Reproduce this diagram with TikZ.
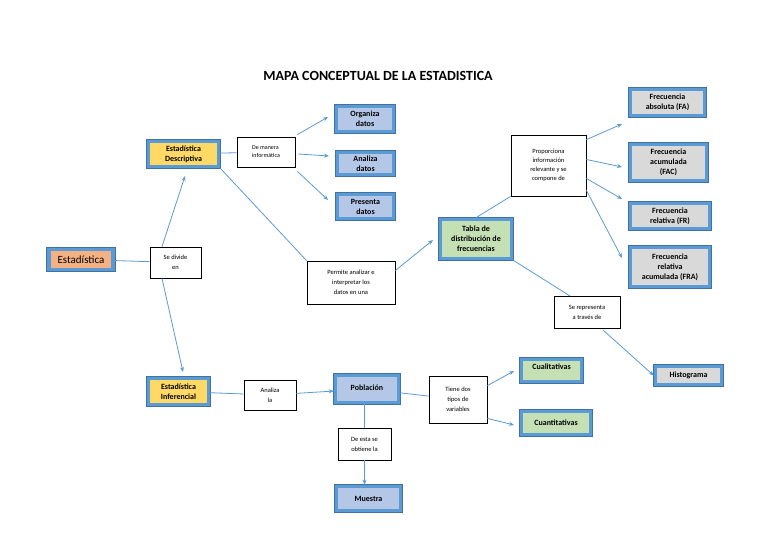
\documentclass[tikz,border=0pt]{standalone}
\usepackage{fontspec}
\setmainfont{Carlito}
\usetikzlibrary{arrows.meta}
\definecolor{bblue}{HTML}{5B9BD5}
\definecolor{dblue}{HTML}{41719C}
\definecolor{cor}{HTML}{F4B183}
\definecolor{cye}{HTML}{FFD966}
\definecolor{clb}{HTML}{B4C7E7}
\definecolor{cgr}{HTML}{C5E0B4}
\definecolor{cgy}{HTML}{D9D9D9}
\begin{document}
\begin{tikzpicture}[x=1pt,y=-1pt,
  bbox/.style 2 args={preaction={draw=dblue,line width=5.2pt},draw=bblue,line width=3.6pt,fill=#1,
    minimum width=#2,align=center,font=\bfseries\fontsize{8}{10}\selectfont,inner sep=1pt},
  wbox/.style={draw=black,line width=0.8pt,fill=white,align=center,font=\fontsize{6.5}{10}\selectfont,inner sep=2pt},
  ln/.style={draw=bblue,line width=0.8pt},
  ar/.style={ln,-{Stealth[length=5pt,width=4pt]}}]
\useasboundingbox (0,0) rectangle (768,543);
\fill[white] (0,0) rectangle (768,543);
\node (title) at (378,76) {\bfseries\fontsize{14}{16}\selectfont MAPA CONCEPTUAL DE LA ESTADISTICA};
% blue boxes
\node[bbox={cor}{64pt},font=\fontsize{11}{12}\selectfont,minimum height=20pt] (est) at (81,259.5) {Estadística};
\node[bbox={cye}{70pt},minimum height=25pt] (desc) at (183.5,154) {Estadística\\Descriptiva};
\node[bbox={clb}{57pt},minimum height=25pt] (org) at (365,119) {Organiza\\datos};
\node[bbox={clb}{56pt},minimum height=22pt] (ana) at (365.5,163.5) {Analiza\\datos};
\node[bbox={clb}{56pt},minimum height=24pt] (pre) at (365.5,206.5) {Presenta\\datos};
\node[bbox={cgr}{71pt},minimum height=39pt] (tab) at (476,239) {Tabla de\\distribución de\\frecuencias};
\node[bbox={cgy}{74pt},minimum height=26pt] (fa) at (667.5,102.5) {Frecuencia\\absoluta (FA)};
\node[bbox={cgy}{76pt},minimum height=36pt] (fac) at (668.5,162.5) {Frecuencia\\acumulada\\(FAC)};
\node[bbox={cgy}{79pt},minimum height=25pt] (fr) at (670,216) {Frecuencia\\relativa (FR)};
\node[bbox={cgy}{79pt},minimum height=39pt] (fra) at (670,267) {Frecuencia\\relativa\\acumulada (FRA)};
\node[bbox={cgy}{66pt},minimum height=18pt] (his) at (688.5,375.5) {Histograma};
\node[bbox={cye}{60pt},minimum height=26pt] (inf) at (178.5,391.5) {Estadística\\Inferencial};
\node[bbox={clb}{63pt},minimum height=25pt,text height=14pt,text depth=11pt] (pob) at (367,389) {Población};
\node[bbox={cgr}{60pt},minimum height=20pt,text height=9pt,text depth=11pt] (cual) at (551.5,370.5) {Cualitativas};
\node[bbox={cgr}{69pt},minimum height=23pt] (cuan) at (556,423) {Cuantitativas};
\node[bbox={clb}{64pt},minimum height=24pt] (mue) at (368.5,498.5) {Muestra};
% white boxes
\node[wbox,minimum width=51pt,minimum height=31pt] (div) at (175.5,262.5) {Se divide\\en};
\node[wbox,minimum width=58pt,minimum height=30pt,align=left,font=\fontsize{6}{8}\selectfont] (dem) at (266,152) {De manera\\informática};
\node[wbox,minimum width=88pt,minimum height=43pt] (per) at (351,282.5) {Permite analizar e\\interpretar los\\datos en una};
\node[wbox,minimum width=75pt,minimum height=61pt,font=\fontsize{6.5}{9}\selectfont] (pro) at (548.5,165.5) {Proporciona\\información\\relevante y se\\compone de};
\node[wbox,minimum width=66pt,minimum height=32pt] (rep) at (587,312) {Se representa\\a través de};
\node[wbox,minimum width=52pt,minimum height=30pt] (anl) at (270,395) {Analiza\\la};
\node[wbox,minimum width=58pt,minimum height=47pt] (tie) at (458,399.5) {Tiene dos\\tipos de\\variables};
\node[wbox,minimum width=53pt,minimum height=32pt] (obt) at (364.5,444) {De esta se\\obtiene la};
% connectors
\draw[ln] (est) -- (div);
\draw[ar] (div.north -| 162,0) -- (185,176);
\draw[ar] (div.south -| 162,0) -- (183,372);
\draw[ln] (desc) -- (dem);
\draw[ar] (dem.north east) ++(2,-2) -- (328,117);
\draw[ar] (dem.east) ++(3,2) -- (329,156);
\draw[ar] (dem.south east) ++(2,4) -- (328,200);
\draw[ln] (desc.south east) -- (per.north west);
\draw[ar] (per.east) ++(0,-12) -- (433,240);
\draw[ln] (tab.north) -- (pro.south west);
\draw[ar] (pro.north east) ++(0,5) -- (622,124);
\draw[ar] (pro.east) ++(0,-6) -- (622,167);
\draw[ar] (pro.east) ++(0,13) -- (622,199);
\draw[ar] (pro.south east) ++(0,-6) -- (622,258);
\draw[ln] (tab.south east) -- (570,296);
\draw[ar] (603,330) -- (his.west);
\draw[ln] (inf) -- (anl);
\draw[ar] (anl) -- (pob);
\draw[ln] (pob) -- (tie);
\draw[ar] (tie.north east) ++(0,10) -- (514,371);
\draw[ar] (tie.south east) ++(0,-5) -- (514,425);
\draw[ln] (pob.south -| obt) -- (obt.north);
\draw[ar] (obt.south) -- (mue.north -| obt);
\end{tikzpicture}
\end{document}
